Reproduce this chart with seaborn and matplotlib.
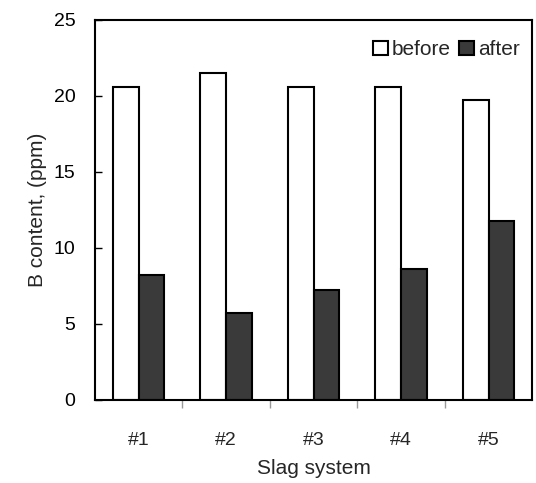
import numpy as np
import pandas as pd
import seaborn as sns
import matplotlib.pyplot as plt
from matplotlib.ticker import FixedLocator

systems = ['#1', '#2', '#3', '#4', '#5']
before = [20.6, 21.5, 20.6, 20.6, 19.7]
after = [8.2, 5.7, 7.2, 8.6, 11.8]

df = pd.DataFrame({
    'system': systems * 2,
    'value': before + after,
    'stage': ['before'] * 5 + ['after'] * 5,
})

sns.set_style('ticks')
plt.rcParams['font.family'] = ['Liberation Sans', 'DejaVu Sans']

fig = plt.figure(figsize=(5.36, 4.83), dpi=100)
ax = fig.add_axes([0.177, 0.172, 0.816, 0.787])
sns.barplot(data=df, x='system', y='value', hue='stage',
            palette={'before': 'white', 'after': '#3a3a3a'},
            edgecolor='black', linewidth=1.5, width=0.59, ax=ax)

ax.set_ylim(0, 25)
ax.set_xlim(-0.5, 4.5)
ax.set_yticks([0, 5, 10, 15, 20, 25])
ax.tick_params(axis='y', direction='in', length=5, width=1, labelsize=14, pad=14, colors='black')
ax.tick_params(axis='x', which='major', length=0, labelsize=14, pad=23)
ax.xaxis.set_minor_locator(FixedLocator([0.5, 1.5, 2.5, 3.5]))
ax.tick_params(axis='x', which='minor', direction='out', length=6, width=1, color='#999999')

for s in ax.spines.values():
    s.set_visible(True)
    s.set_color('black')
    s.set_linewidth(1.5)

ax.set_xlabel('Slag system', fontsize=15, labelpad=7)
ax.set_ylabel('B content, (ppm)', fontsize=15, labelpad=5)

leg = ax.legend(loc='upper right', ncol=2, frameon=False, fontsize=15,
                handlelength=0.7, handleheight=0.7, handletextpad=0.2,
                columnspacing=0.4, borderaxespad=0.4, bbox_to_anchor=(1.01, 0.99))

fig.savefig('out.png', dpi=100)
